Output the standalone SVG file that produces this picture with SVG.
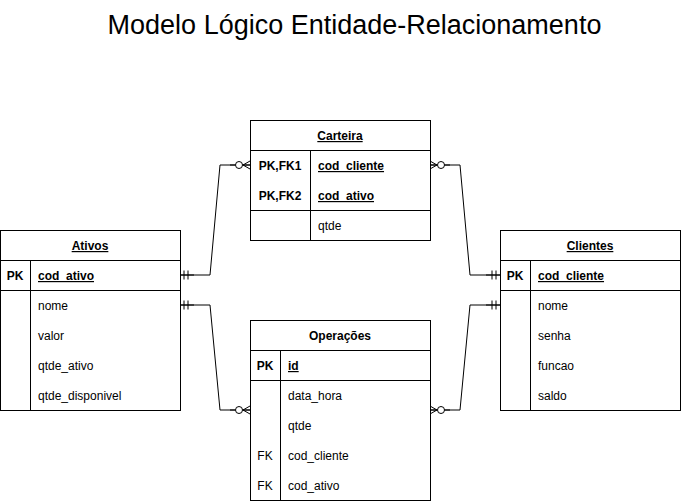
<svg xmlns="http://www.w3.org/2000/svg" width="681" height="501" viewBox="0 0 681 501">
<defs>
<style>
text{font-family:"Liberation Sans",Arial,Helvetica,sans-serif;font-size:12px;fill:#000}
.title{font-size:27px}
.b{font-weight:bold}
.u{text-decoration:underline}
.box{fill:#fff;stroke:#000;stroke-width:1}
.ln{fill:none;stroke:#000;stroke-width:1}
</style>
<marker id="one" markerWidth="14" markerHeight="12" refX="0" refY="6" orient="auto" markerUnits="userSpaceOnUse">
<path d="M0,6H14M4,1.5V10.5M8,1.5V10.5" fill="none" stroke="#000"/>
</marker>
<marker id="many" markerWidth="21" markerHeight="12" refX="20" refY="6" orient="auto" markerUnits="userSpaceOnUse">
<path d="M0,6H5.5" fill="none" stroke="#000"/>
<circle cx="9" cy="6" r="3.5" fill="#fff" stroke="#000"/>
<path d="M20,2L13,6L20,10M13,6H20" fill="none" stroke="#000"/>
</marker>
</defs>
<rect width="681" height="501" fill="#fff"/>
<text class="title" x="354.5" y="34" text-anchor="middle">Modelo Lógico Entidade-Relacionamento</text>

<g id="connectors">
<path class="ln" d="M180,275H210L220,165H250" marker-start="url(#one)" marker-end="url(#many)"/>
<path class="ln" d="M180,305H210L220,410H250" marker-start="url(#one)" marker-end="url(#many)"/>
<path class="ln" d="M500,275H470L460,165H430" marker-start="url(#one)" marker-end="url(#many)"/>
<path class="ln" d="M500,305H470L460,410H430" marker-start="url(#one)" marker-end="url(#many)"/>
</g>

<g id="carteira">
<rect class="box" x="250.5" y="120.5" width="180" height="120"/>
<path class="ln" d="M250.5,150.5H430.5M250.5,210.5H430.5M310.5,150.5V240.5"/>
<text class="b u" x="340" y="140" text-anchor="middle">Carteira</text>
<text class="b" x="280" y="170" text-anchor="middle">PK,FK1</text>
<text class="b u" x="318" y="170">cod_cliente</text>
<text class="b" x="280" y="200" text-anchor="middle">PK,FK2</text>
<text class="b u" x="318" y="200">cod_ativo</text>
<text x="318" y="230">qtde</text>
</g>

<g id="ativos">
<rect class="box" x="0.5" y="230.5" width="180" height="180"/>
<path class="ln" d="M0.5,260.5H180.5M0.5,290.5H180.5M30.5,260.5V410.5"/>
<text class="b u" x="90" y="250" text-anchor="middle">Ativos</text>
<text class="b" x="15" y="280" text-anchor="middle">PK</text>
<text class="b u" x="38" y="280">cod_ativo</text>
<text x="38" y="310">nome</text>
<text x="38" y="340">valor</text>
<text x="38" y="370">qtde_ativo</text>
<text x="38" y="400">qtde_disponivel</text>
</g>

<g id="clientes">
<rect class="box" x="500.5" y="230.5" width="180" height="180"/>
<path class="ln" d="M500.5,260.5H680.5M500.5,290.5H680.5M530.5,260.5V410.5"/>
<text class="b u" x="590" y="250" text-anchor="middle">Clientes</text>
<text class="b" x="515" y="280" text-anchor="middle">PK</text>
<text class="b u" x="538" y="280">cod_cliente</text>
<text x="538" y="310">nome</text>
<text x="538" y="340">senha</text>
<text x="538" y="370">funcao</text>
<text x="538" y="400">saldo</text>
</g>

<g id="operacoes">
<rect class="box" x="250.5" y="320.5" width="180" height="180"/>
<path class="ln" d="M250.5,350.5H430.5M250.5,380.5H430.5M280.5,350.5V500.5"/>
<text class="b" x="340" y="340" text-anchor="middle">Operações</text>
<text class="b" x="265" y="370" text-anchor="middle">PK</text>
<text class="b u" x="288" y="370">id</text>
<text x="288" y="400">data_hora</text>
<text x="288" y="430">qtde</text>
<text x="265" y="460" text-anchor="middle">FK</text>
<text x="288" y="460">cod_cliente</text>
<text x="265" y="490" text-anchor="middle">FK</text>
<text x="288" y="490">cod_ativo</text>
</g>
</svg>
